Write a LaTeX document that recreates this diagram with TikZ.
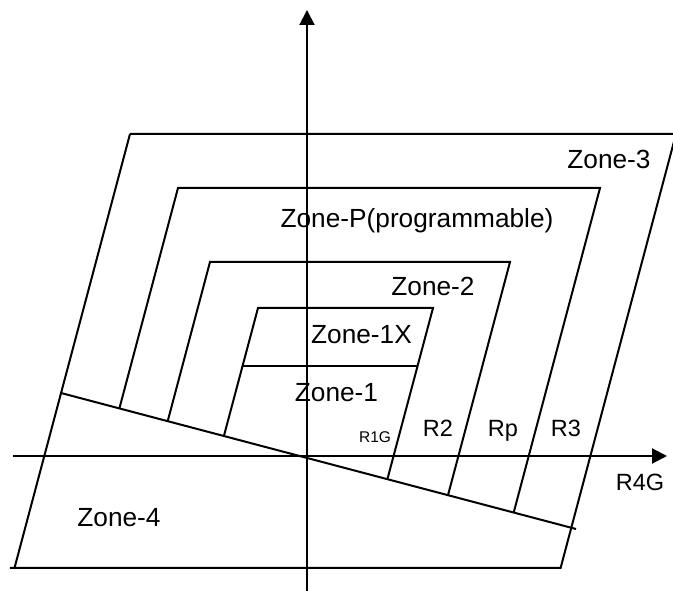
\documentclass[tikz,border=0pt]{standalone}
\usepackage{fontspec}
\setmainfont{Liberation Sans}
\usepackage{tikz}
\usetikzlibrary{positioning,arrows.meta}
\tikzset{
  every node/.style={font=\normalsize},
  % --- lines
  zline/.style  = {line width=0.8pt, draw=black},
  axis/.style   = {zline, -{Triangle[length=6pt,width=6pt]}},
  % --- labels
  zlab/.style   = {anchor=base, inner sep=0pt, font=\fontsize{10.5}{12}\selectfont},
  rlab/.style   = {zlab, font=\fontsize{9.4}{11}\selectfont},
  rsmall/.style = {zlab, font=\fontsize{6.2}{7}\selectfont},
}

\begin{document}
\begin{tikzpicture}[x=0.4pt,y=0.4pt]
  \useasboundingbox (-307,-135) rectangle (366,456);

  % axes
  \coordinate (xs) at (-294,0);  \coordinate (xe) at (360,0);
  \coordinate (ys) at (0,-136);  \coordinate (ye) at (0,446);
  \draw[axis] (xs) -- (xe);
  \draw[axis] (ys) -- (ye);

  % outer frame: zone-3 above, zone-4 below the sloped line
  \draw[zline] (-177,322) -- (369,322) -- (253.6,-112) -- (-297,-112);
  \draw[zline] (-292.5,-112) -- (-177,322);
  \coordinate (sl) at (-246,63);  \coordinate (sr) at (269,-73);
  \draw[zline] (sl) -- (sr);

  % nested zones, sides run down to the sloped line
  \draw[zline] (-187.6,47.6) -- (-129,268) -- (293,268) -- (206.7,-56.5);  % zone-P
  \draw[zline] (-139.3,34.8) -- (-97,194)  -- (203,194) -- (141,-39.2);    % zone-2
  \draw[zline] (-83.1,20)    -- (-49,148)  -- (126,148) -- (80.4,-23.2);   % zone-1X
  \draw[zline] (-64.5,90) -- (110.6,90);                                    % zone-1 / 1X

  % zone names
  \node[zlab] (z3)  at (302,287)  {Zone-3};
  \node[zlab] (zp)  at (110,228)  {Zone-P(programmable)};
  \node[zlab] (z2)  at (126,160)  {Zone-2};
  \node[zlab] (z1x) at (54.5,112) {Zone-1X};
  \node[zlab] (z1)  at (29.5,54)  {Zone-1};
  \node[zlab] (z4)  at (-188,-71) {Zone-4};

  % reach labels
  \node[rsmall] (r1g) at (68,13)   {R1G};
  \node[rlab]   (r2)  at (131,19)  {R2};
  \node[rlab]   (rp)  at (196,19)  {Rp};
  \node[rlab]   (r3)  at (259,19)  {R3};
  \node[rlab]   (r4g) at (333,-35) {R4G};
\end{tikzpicture}
\end{document}
